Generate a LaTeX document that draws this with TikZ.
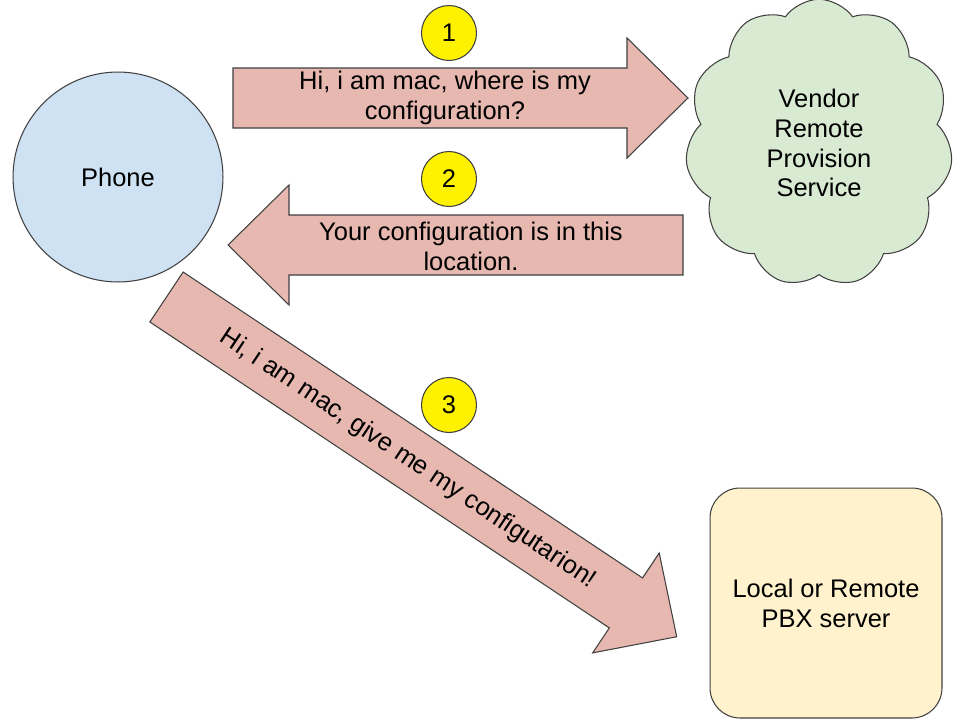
\documentclass[tikz,border=0pt]{standalone}
\usepackage{fontspec}
\setmainfont{Liberation Sans}
\usetikzlibrary{shapes.symbols,positioning}

\definecolor{phoneblue}{HTML}{CFE2F3}
\definecolor{cloudgreen}{HTML}{D9EAD3}
\definecolor{pbxyellow}{HTML}{FFF2CC}
\definecolor{arrowpink}{HTML}{E6B8AF}
\definecolor{edgegray}{HTML}{404040}

% fat arrow: #1 tail point, #2 angle, #3 length
\newcommand{\fatarrow}[3]{%
	\begin{scope}[shift={#1},rotate=#2]
		\draw [arrowshape] (0,-30) -- ({#3-61},-30) -- ({#3-61},-60) -- (#3,0)
			-- ({#3-61},60) -- ({#3-61},30) -- (0,30) -- cycle;
	\end{scope}}

\begin{document}
\begin{tikzpicture}[x=0.02cm,y=0.02cm,
		every node/.style={font=\fontsize{14.5}{17}\selectfont, text=black},
		arrowshape/.style={fill=arrowpink, draw=edgegray, line width=0.6pt, line join=miter},
		msg/.style={align=center},
		stepnum/.style={circle, fill=yellow, draw=edgegray, line width=0.6pt, minimum size=1.1cm, inner sep=0pt}]
	\useasboundingbox (0,0) rectangle (953,-720);
	% shapes
	\node [circle, fill=phoneblue, draw=edgegray, line width=0.6pt, minimum size=4.2cm] (phone) at (118,-177) {Phone};
	\node [cloud, cloud puffs=11, cloud puff arc=110, aspect=0.95, fill=cloudgreen, draw=edgegray, line width=0.6pt,
		minimum width=5.35cm, minimum height=5.75cm, align=center] (vendor) at (819,-143) {Vendor\\Remote\\Provision\\Service};
	\node [rectangle, rounded corners=0.6cm, fill=pbxyellow, draw=edgegray, line width=0.6pt,
		minimum width=4.64cm, minimum height=4.6cm, align=center] (pbx) at (826,-603) {Local or Remote\\PBX server};
	% arrows
	\fatarrow{(233,-98)}{0}{455}
	\fatarrow{(683,-245)}{180}{455}
	\fatarrow{(166.5,-297)}{-33.66}{613}
	\node [msg] (ask) at (445,-98) {Hi, i am mac, where is my\\configuration?};
	\node [msg] (reply) at (471,-246) {Your configuration is in this\\location.};
	\node [msg, rotate=-33.66] (fetch) at (408,-459) {Hi, i am mac, give me my configutarion!};
	% step numbers
	\node [stepnum] (one) at (449,-33) {1};
	\node [stepnum] (two) at (449,-179) {2};
	\node [stepnum] (three) at (449,-405) {3};
\end{tikzpicture}
\end{document}
